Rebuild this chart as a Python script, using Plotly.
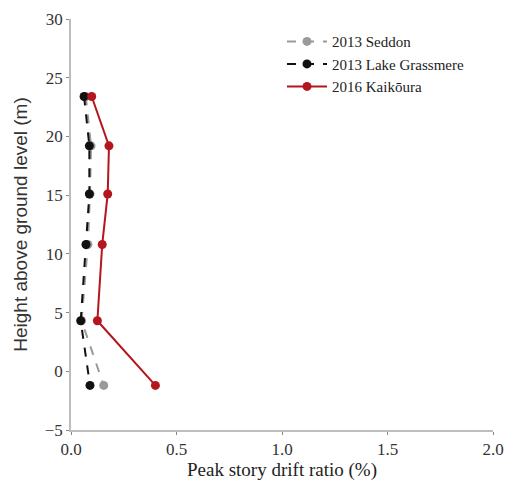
'''
Peak story drift ratio profiles for three earthquakes
'''

import plotly.graph_objects as go

HEIGHTS = [23.4, 19.2, 15.1, 10.8, 4.3, -1.2]
SEDDON = [0.07, 0.095, 0.09, 0.08, 0.05, 0.155]
GRASSMERE = [0.062, 0.087, 0.087, 0.071, 0.046, 0.09]
KAIKOURA = [0.098, 0.18, 0.174, 0.148, 0.125, 0.40]
SERIES_NAMES = ['2013 Seddon', '2013 Lake Grassmere', '2016 Kaikōura']

FONT = 'Liberation Serif, Times New Roman, serif'
SANS = 'Liberation Sans, Arial, sans-serif'

fig = go.Figure()
styles = [('#9a9a9a', 'dash'), ('#111111', 'dash'), ('#b5161e', 'solid')]
for name, xs, (color, dash) in zip(SERIES_NAMES, [SEDDON, GRASSMERE, KAIKOURA], styles):
    fig.add_trace(go.Scatter(
        x=xs, y=HEIGHTS, name=name, mode='lines+markers',
        line=dict(color=color, width=2, dash=dash),
        marker=dict(color=color, size=9),
    ))

axis_style = dict(
    showgrid=False, zeroline=False, showline=True, linecolor='#bdbdbd', linewidth=1.5,
    ticks='outside', ticklen=3, tickcolor='#888888', automargin=False,
    tickfont=dict(family=FONT, size=17, color='#333333'),
)
fig.update_xaxes(range=[0, 2.0], dtick=0.5, tickformat='.1f',
                 title=dict(text='Peak story drift ratio (%)', font=dict(family=FONT, size=19, color='#222222'),
                            standoff=0),
                 **axis_style)
fig.update_yaxes(range=[-5, 30], dtick=5,
                 title=dict(text='Height above ground level (m)', font=dict(family=SANS, size=19, color='#333333'),
                            standoff=12),
                 **axis_style)

fig.update_layout(
    width=508, height=485,
    margin=dict(l=71, r=15, t=19, b=55),
    plot_bgcolor='white', paper_bgcolor='white',
    font=dict(family=FONT, color='#222222'),
    legend=dict(x=0.5, y=0.985, xanchor='left', yanchor='top', bgcolor='rgba(0,0,0,0)',
                font=dict(family=FONT, size=15, color='#222222'), tracegroupgap=0,
                itemwidth=40),
)

# drop the default page margin so the figure fills the window exactly
fig.write_html('out.html', config={'displayModeBar': False},
               post_script="document.body.style.margin = '0';")
